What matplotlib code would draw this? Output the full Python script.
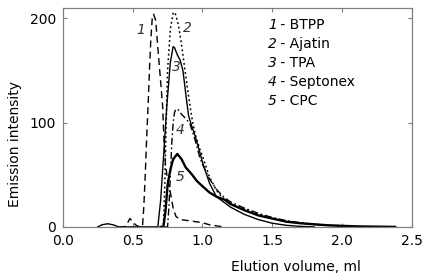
import matplotlib
matplotlib.use("Agg")
import matplotlib.pyplot as plt

# Curve 1 - BTPP (dashed)
x1 = [0.40, 0.44, 0.46, 0.48, 0.50, 0.52, 0.55, 0.57, 0.58, 0.59, 0.60, 0.61, 0.62, 0.63, 0.64, 0.65,
      0.665, 0.68, 0.70, 0.715, 0.725, 0.735, 0.75, 0.77, 0.79, 0.81, 0.84, 0.90, 1.00, 1.05, 1.10, 1.15]
y1 = [0, 0, 3, 8, 5, 2, 0, 0, 20, 50, 85, 115, 150, 180, 200, 204,
      198, 172, 140, 115, 80, 60, 45, 33, 18, 10, 7, 6, 4, 2, 1, 0]

# Curve 2 - Ajatin (dotted)
x2 = [0.70, 0.72, 0.73, 0.74, 0.75, 0.77, 0.79, 0.80, 0.81, 0.83, 0.85, 0.87, 0.89, 0.91, 0.93, 0.95,
      0.98, 1.00, 1.05, 1.10, 1.15, 1.20, 1.30, 1.40, 1.50, 1.60, 1.70, 1.80, 1.90, 2.00, 2.10]
y2 = [0, 0, 40, 100, 150, 190, 205, 206, 203, 192, 175, 155, 135, 117, 100, 88,
      75, 68, 48, 35, 27, 22, 17, 12, 8, 5, 3.5, 2, 1.5, 1, 0]

# Curve 3 - TPA (thin solid)
x3 = [0.25, 0.28, 0.32, 0.36, 0.40, 0.45, 0.66, 0.68, 0.70, 0.72, 0.745, 0.77, 0.79, 0.80, 0.82, 0.84,
      0.86, 0.88, 0.90, 0.92, 0.95, 0.98, 1.00, 1.05, 1.10, 1.15, 1.20, 1.30, 1.40, 1.50, 1.60, 1.70, 1.80]
y3 = [0, 2, 3, 2, 0, 0, 0, 0, 25, 65, 117, 158, 173, 172, 165, 160,
      150, 128, 107, 98, 86, 72, 62, 42, 29, 24, 19, 12, 7, 3.5, 1.5, 0.5, 0]

# Curve 4 - Septonex (dash-dot)
x4 = [0.73, 0.75, 0.76, 0.77, 0.78, 0.79, 0.80, 0.81, 0.82, 0.83, 0.85, 0.88, 0.91, 0.95, 0.98, 1.00,
      1.05, 1.10, 1.15, 1.20, 1.30, 1.40, 1.50, 1.60, 1.70, 1.80, 1.90, 2.00, 2.10]
y4 = [0, 0, 20, 50, 80, 100, 110, 113, 113, 112, 108, 104, 99, 82, 67, 60,
      46, 36, 29, 24, 18, 13, 9, 6, 4, 2.5, 1.5, 1, 0]

# Curve 5 - CPC (thick solid)
x5 = [0.70, 0.72, 0.735, 0.75, 0.77, 0.79, 0.82, 0.85, 0.88, 0.92, 0.96, 1.00, 1.05, 1.10, 1.16, 1.20,
      1.30, 1.40, 1.50, 1.60, 1.70, 1.80, 1.90, 2.00, 2.10, 2.20, 2.38]
y5 = [0, 0, 15, 40, 55, 65, 70, 65, 57, 51, 44, 39, 33, 29, 26, 22,
      16, 11, 8, 5, 3.5, 2.5, 1.5, 1, 0.5, 0.3, 0]

legend_nums = ["1", "2", "3", "4", "5"]
legend_names = ["BTPP", "Ajatin", "TPA", "Septonex", "CPC"]
x_ticks = [0.0, 0.5, 1.0, 1.5, 2.0, 2.5]
y_ticks = [0, 100, 200]

plt.rcParams['font.family'] = ['DejaVu Sans']
fig = plt.figure(figsize=(4.25, 2.76), dpi=100)
ax = fig.add_axes([0.148, 0.178, 0.821, 0.793])

ax.plot(x1, y1, color='black', lw=1.0, ls=(0, (5, 3)))
ax.plot(x2, y2, color='black', lw=1.1, ls=(0, (1.2, 1.8)))
ax.plot(x3, y3, color='black', lw=1.0, ls='-')
ax.plot(x4, y4, color='black', lw=1.0, ls=(0, (5, 2, 1.2, 2)))
ax.plot(x5, y5, color='black', lw=1.7, ls='-')

ax.set_xlim(0, 2.5)
ax.set_ylim(0, 210)
ax.set_xticks(x_ticks)
ax.set_xticklabels([f"{v:.1f}" for v in x_ticks])
ax.set_yticks(y_ticks)
ax.tick_params(direction='in', top=True, right=True, length=3, width=0.8,
               color='#808080', labelsize=10, pad=5)
for s in ax.spines.values():
    s.set_color('#808080')
    s.set_linewidth(0.9)

ax.set_xlabel("Elution volume, ml", fontsize=10)
ax.set_ylabel("Emission intensity", fontsize=10)
ax.xaxis.set_label_coords(0.667, -0.15)
ax.yaxis.set_label_coords(-0.117, 0.38)

# curve number labels
lbl = dict(fontsize=10, style='italic', color='#333333', ha='center', va='center')
ax.text(0.56, 189, "1", **lbl)
ax.text(0.89, 191, "2", **lbl)
ax.text(0.81, 153, "3", **lbl)
ax.text(0.84, 93, "4", **lbl)
ax.text(0.84, 48, "5", **lbl)

# legend text
for i, (n, name) in enumerate(zip(legend_nums, legend_names)):
    yy = 194 - i * 18.2
    ax.text(1.47, yy, n, fontsize=10, style='italic', ha='left', va='center')
    ax.text(1.53, yy, " - " + name, fontsize=10, ha='left', va='center')

fig.savefig("out.png", dpi=100)
